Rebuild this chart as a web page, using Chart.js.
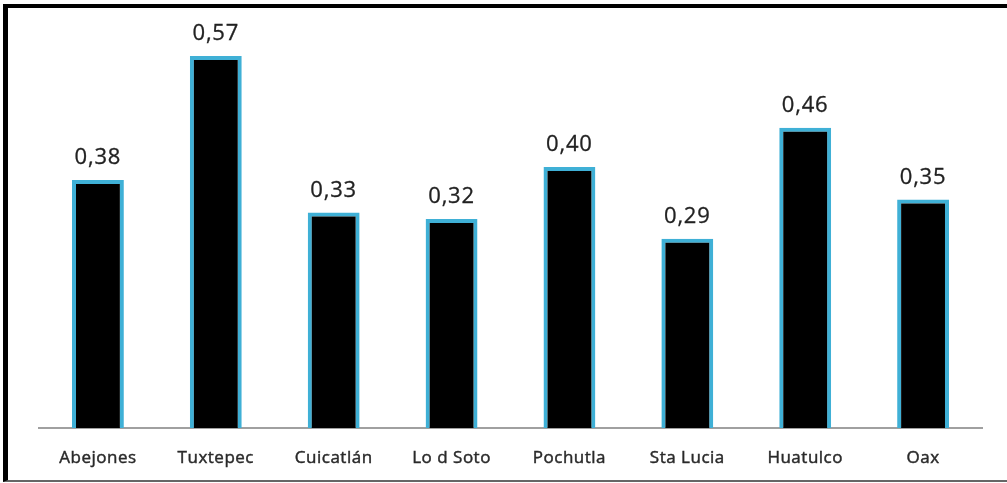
<!DOCTYPE html>
<html>
<head>
<meta charset="utf-8">
<script src="https://cdn.jsdelivr.net/npm/chart.js@4/dist/chart.umd.min.js"></script>
<style>
  html, body { margin: 0; padding: 0; background: #ffffff; }
  #wrap { position: relative; width: 1007px; height: 483px; overflow: hidden; }
  #frame {
    position: absolute; left: 3px; top: 4px; width: 1010px; height: 472px;
    border-top: 4px solid #000; border-left: 5px solid #000; border-bottom: 2px solid #666;
    box-sizing: content-box;
  }
  canvas { position: absolute; left: 0; top: 0; }
</style>
</head>
<body>
<div id="wrap">
  <div id="frame"></div>
  <canvas id="c" width="1007" height="483"></canvas>
</div>
<script>
const categories = ['Abejones', 'Tuxtepec', 'Cuicatlán', 'Lo d Soto', 'Pochutla', 'Sta Lucia', 'Huatulco', 'Oax'];
const values = [0.38, 0.57, 0.33, 0.32, 0.40, 0.29, 0.46, 0.35];

// Writes each bar's value above it, with a comma as decimal separator
const valueLabels = {
  id: 'valueLabels',
  afterDatasetsDraw(chart) {
    const ctx = chart.ctx;
    const meta = chart.getDatasetMeta(0);
    ctx.save();
    ctx.font = '22px "Open Sans"';
    ctx.letterSpacing = '0.8px';
    ctx.fillStyle = '#222';
    ctx.strokeStyle = '#222';
    ctx.lineWidth = 0.3;
    ctx.textAlign = 'center';
    ctx.textBaseline = 'alphabetic';
    meta.data.forEach((bar, i) => {
      const txt = values[i].toFixed(2).replace('.', ',');
      ctx.fillText(txt, bar.x, bar.y - 16);
      ctx.strokeText(txt, bar.x, bar.y - 16);
    });
    ctx.restore();
  }
};

// Category labels under the axis
const categoryLabels = {
  id: 'categoryLabels',
  afterDraw(chart) {
    const ctx = chart.ctx;
    const xs = chart.scales.x;
    const base = chart.chartArea.bottom;
    ctx.save();
    ctx.font = '17px "Open Sans"';
    ctx.letterSpacing = '0.5px';
    ctx.fillStyle = '#2a2a2a';
    ctx.strokeStyle = '#2a2a2a';
    ctx.lineWidth = 0.45;
    ctx.textAlign = 'center';
    ctx.textBaseline = 'alphabetic';
    categories.forEach((c, i) => {
      const x = xs.getPixelForValue(i);
      ctx.fillText(c, x, base + 35);
      ctx.strokeText(c, x, base + 35);
    });
    ctx.restore();
  }
};

new Chart(document.getElementById('c'), {
  type: 'bar',
  data: {
    labels: categories,
    datasets: [{
      data: values,
      backgroundColor: '#000000',
      borderColor: '#3fb0d6',
      borderWidth: 4,
      borderSkipped: 'start',
      barPercentage: 0.44,
      categoryPercentage: 1
    }]
  },
  options: {
    responsive: false,
    animation: false,
    devicePixelRatio: 1,
    layout: { padding: { left: 39, right: 25, top: 20, bottom: 55 } },
    plugins: { legend: { display: false }, tooltip: { enabled: false } },
    scales: {
      x: {
        grid: { display: false, drawTicks: false, tickLength: 0 },
        border: { display: true, color: '#a0a0a0', width: 2 },
        ticks: { display: false }
      },
      y: {
        display: false,
        min: 0,
        max: 0.625
      }
    }
  },
  plugins: [valueLabels, categoryLabels]
});
</script>
</body>
</html>
